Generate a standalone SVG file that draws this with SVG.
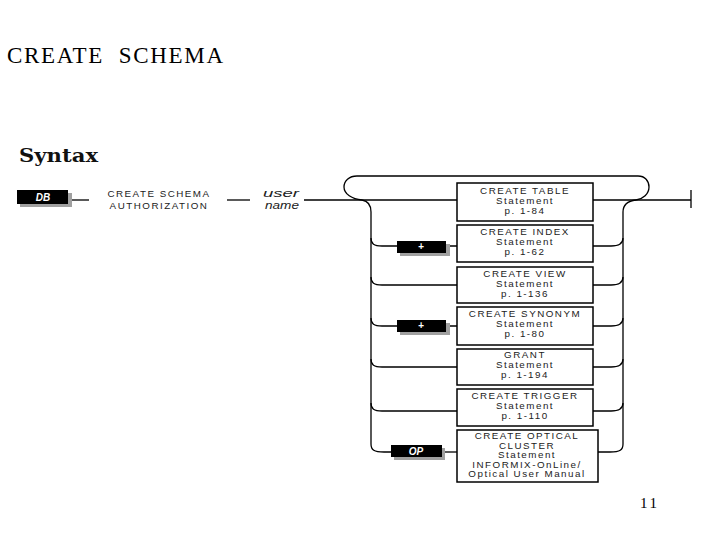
<svg xmlns="http://www.w3.org/2000/svg" width="720" height="540" viewBox="0 0 720 540">
<style>
.title{font-family:"Liberation Serif","Times New Roman",serif;fill:#000}
.syn{font-family:"DejaVu Serif","Liberation Serif",serif;font-weight:bold;font-size:19px;fill:#111}
.t{font-family:"Liberation Sans",Arial,sans-serif;font-size:9.8px;fill:#222;text-anchor:middle;letter-spacing:1.5px}
.ti{font-family:"Liberation Sans",Arial,sans-serif;font-size:11px;fill:#222;font-style:italic}
.box{fill:#fff;stroke:#000;stroke-width:1.5}
.blk{fill:#000}
.shd{fill:#a0a0a0}
.wt{font-family:"Liberation Sans",Arial,sans-serif;font-size:10px;fill:#fff;font-style:italic;text-anchor:middle;font-weight:bold}
.ln{fill:none;stroke:#000;stroke-width:1.3}
</style>
<rect width="720" height="540" fill="#fff"/>
<text class="title" x="7" y="63" font-size="23" textLength="216" lengthAdjust="spacing" xml:space="preserve">CREATE  SCHEMA</text>
<text class="syn" x="19" y="162" textLength="79" lengthAdjust="spacingAndGlyphs">Syntax</text>

<g id="connectors">
<path class="ln" d="M70,200 H89"/>
<path class="ln" d="M227,200 H250"/>
<path class="ln" d="M304,200 H457"/>
<path class="ln" d="M593,200 H691 M691,190 V208"/>
<path class="ln" d="M362,200 C352,199 344,194 344,187 C344,181 349,176 357,176 H638 C645,176 649,181 649,187 C649,194 643,199 636,200"/>
<path class="ln" d="M362,200 C368,201 371,205 371,212 V444 C371,450 374,452 384,452 H391"/>
<path class="ln" d="M636,200 C628,201 623,205 623,212 V444 C623,450 620,452 610,452 H598"/>
<path class="ln" d="M371,238 C371,244 374,246 382,246 H397 M446,246 H457"/>
<path class="ln" d="M371,277 C371,283 374,285 382,285 H457"/>
<path class="ln" d="M371,318 C371,324 374,326 382,326 H397 M446,326 H457"/>
<path class="ln" d="M371,359 C371,365 374,367 382,367 H457"/>
<path class="ln" d="M371,403 C371,409 374,411 382,411 H457"/>
<path class="ln" d="M442,452 H457"/>
<path class="ln" d="M593,246 H611 C618,246 623,244 623,238"/>
<path class="ln" d="M593,285 H611 C618,285 623,283 623,277"/>
<path class="ln" d="M593,326 H611 C618,326 623,324 623,318"/>
<path class="ln" d="M593,367 H611 C618,367 623,365 623,359"/>
<path class="ln" d="M593,411 H611 C618,411 623,409 623,403"/>
</g>

<g id="db">
<rect class="shd" x="20" y="193" width="52" height="14"/>
<rect class="blk" x="17" y="190" width="51" height="14"/>
<text class="wt" x="43" y="201">DB</text>
</g>
<g id="create-schema-authorization">
<text class="t" x="159" y="197">CREATE SCHEMA</text>
<text class="t" x="159" y="209">AUTHORIZATION</text>
</g>
<g id="user-name">
<text class="ti" x="263" y="197" textLength="36" lengthAdjust="spacingAndGlyphs">user</text>
<text class="ti" x="265" y="209" textLength="34" lengthAdjust="spacingAndGlyphs">name</text>
</g>

<g id="create-table">
<rect class="box" x="457" y="183" width="136" height="38"/>
<text class="t" x="525" y="194">CREATE TABLE</text>
<text class="t" x="525" y="204">Statement</text>
<text class="t" x="525" y="214">p. 1-84</text>
</g>
<g id="plus-index">
<rect class="shd" x="400" y="244" width="50" height="12"/>
<rect class="blk" x="397" y="241" width="49" height="12"/>
<text class="wt" x="421" y="250">+</text>
</g>
<g id="create-index">
<rect class="box" x="457" y="225" width="136" height="37"/>
<text class="t" x="525" y="235">CREATE INDEX</text>
<text class="t" x="525" y="245">Statement</text>
<text class="t" x="525" y="255">p. 1-62</text>
</g>
<g id="create-view">
<rect class="box" x="457" y="267" width="136" height="36"/>
<text class="t" x="525" y="277">CREATE VIEW</text>
<text class="t" x="525" y="287">Statement</text>
<text class="t" x="525" y="297">p. 1-136</text>
</g>
<g id="plus-synonym">
<rect class="shd" x="400" y="323" width="50" height="12"/>
<rect class="blk" x="397" y="320" width="49" height="12"/>
<text class="wt" x="421" y="329">+</text>
</g>
<g id="create-synonym">
<rect class="box" x="457" y="307" width="136" height="38"/>
<text class="t" x="525" y="317">CREATE SYNONYM</text>
<text class="t" x="525" y="327">Statement</text>
<text class="t" x="525" y="337">p. 1-80</text>
</g>
<g id="grant">
<rect class="box" x="457" y="349" width="136" height="36"/>
<text class="t" x="525" y="358">GRANT</text>
<text class="t" x="525" y="368">Statement</text>
<text class="t" x="525" y="378">p. 1-194</text>
</g>
<g id="create-trigger">
<rect class="box" x="457" y="389" width="136" height="37"/>
<text class="t" x="525" y="399">CREATE TRIGGER</text>
<text class="t" x="525" y="409">Statement</text>
<text class="t" x="525" y="419">p. 1-110</text>
</g>
<g id="op">
<rect class="shd" x="394" y="448" width="51" height="12"/>
<rect class="blk" x="391" y="445" width="51" height="12"/>
<text class="wt" x="416" y="455">OP</text>
</g>
<g id="create-optical-cluster">
<rect class="box" x="457" y="430" width="141" height="52"/>
<text class="t" x="527" y="439">CREATE OPTICAL</text>
<text class="t" x="527" y="448.5">CLUSTER</text>
<text class="t" x="527" y="458">Statement</text>
<text class="t" x="527" y="467.5">INFORMIX-OnLine/</text>
<text class="t" x="527" y="477">Optical User Manual</text>
</g>

<text class="title" x="640" y="508" font-size="15" textLength="17" lengthAdjust="spacing">11</text>
</svg>
